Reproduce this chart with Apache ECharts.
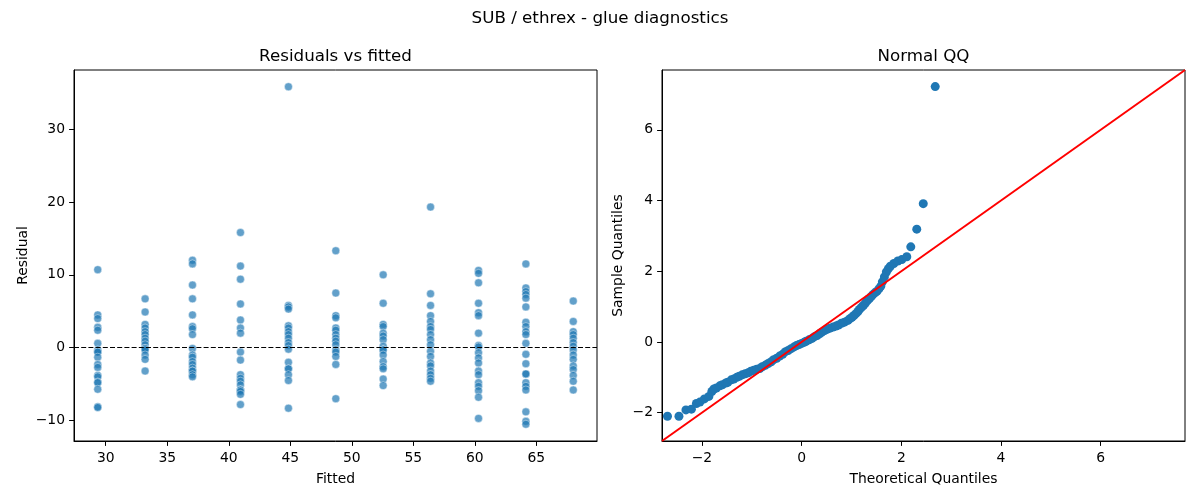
<!DOCTYPE html>
<html>
<head>
<meta charset="utf-8">
<script src="https://cdn.jsdelivr.net/npm/echarts@6/dist/echarts.min.js"></script>
<style>
  html, body { margin: 0; padding: 0; background: #fff; }
  #chart { width: 1200px; height: 500px; }
</style>
</head>
<body>
<div id="chart"></div>
<script>
// fitted levels (one column of points per level)
const fittedLevels = [29.35, 33.2, 37.05, 40.95, 44.85, 48.7, 52.55, 56.4, 60.3, 64.15, 68.0];

// residuals, same order as fittedLevels
const residualGroups = [
  [10.7, 4.5, 4.0, 2.8, 2.4, 0.6, -0.3, -0.6, -0.6, -1.3, -2.3, -2.7, -3.8, -4.0, -4.7, -4.8, -5.7, -8.1, -8.2],
  [6.7, 4.9, 3.2, 2.7, 2.2, 1.8, 1.3, 0.9, 0.4, -0.1, -0.1, -0.3, -1.0, -1.6, -3.2],
  [12.0, 11.5, 8.6, 6.7, 4.5, 2.9, 2.6, 1.8, -0.1, -1.0, -1.3, -1.9, -2.3, -2.8, -3.2, -3.2, -3.7, -4.0],
  [15.8, 11.2, 9.4, 6.0, 3.8, 2.7, 2.0, -0.6, -1.7, -3.7, -4.2, -4.6, -5.1, -5.8, -5.8, -6.0, -6.4, -7.8],
  [35.8, 5.8, 5.6, 5.3, 3.0, 2.7, 2.2, 1.8, 1.3, 0.7, 0.3, -0.2, -2.0, -2.9, -2.9, -3.7, -4.5, -8.3],
  [13.3, 7.5, 4.4, 4.1, 2.7, 2.4, 1.8, 1.3, 0.9, 0.4, -0.3, -0.6, -1.2, -2.3, -7.0],
  [10.0, 6.1, 3.2, 2.9, 2.0, 1.6, 1.1, 0.2, -0.3, -0.3, -1.0, -1.9, -2.6, -2.9, -4.3, -5.2],
  [19.3, 7.4, 5.8, 4.4, 3.6, 2.9, 2.5, 1.8, 1.1, 0.4, -0.5, -1.2, -2.1, -2.5, -3.2, -3.7, -4.2, -4.6],
  [10.6, 10.2, 8.9, 6.1, 4.8, 4.4, 2.0, 0.3, 0.1, -0.7, -1.4, -2.1, -3.2, -3.7, -4.8, -5.3, -5.9, -6.8, -9.7],
  [11.5, 8.2, 7.7, 7.3, 6.8, 5.6, 3.5, 2.9, 2.2, 1.8, 0.6, -0.9, -2.2, -3.6, -3.6, -4.8, -5.3, -5.8, -8.8, -10.1, -10.5],
  [6.4, 3.6, 2.2, 1.8, 1.3, 0.7, 0.2, -0.3, -1.0, -1.6, -2.5, -3.0, -3.8, -4.6, -5.8]
];

// QQ plot points
const qqTheoretical = [
  -2.69, -2.46, -2.32, -2.21, -2.11, -2.04, -1.95, -1.86, -1.80, -1.76, -1.71, -1.64, -1.59, -1.52, -1.48,
  -1.41, -1.36, -1.30, -1.25, -1.19, -1.13, -1.07, -1.02, -0.96, -0.90, -0.84, -0.79, -0.73, -0.67, -0.61,
  -0.56, -0.50, -0.44, -0.38, -0.33, -0.27, -0.21, -0.15, -0.10, -0.05, 0.00, 0.05, 0.09, 0.15, 0.21,
  0.26, 0.31, 0.36, 0.40, 0.46, 0.51, 0.57, 0.63, 0.69, 0.74, 0.80, 0.86, 0.93, 0.97, 1.01, 1.05, 1.09,
  1.13, 1.16, 1.20, 1.24, 1.28, 1.32, 1.36, 1.40, 1.43, 1.47, 1.51, 1.55, 1.59, 1.62, 1.66, 1.70, 1.74,
  1.78, 1.85, 1.93, 2.01, 2.11, 2.19, 2.31, 2.44, 2.68
];
const qqSample = [
  -2.10, -2.10, -1.92, -1.90, -1.74, -1.70, -1.61, -1.54, -1.40, -1.33, -1.30, -1.24, -1.21, -1.16, -1.14,
  -1.07, -1.05, -1.00, -0.97, -0.93, -0.90, -0.87, -0.83, -0.80, -0.77, -0.75, -0.70, -0.66, -0.61, -0.56,
  -0.50, -0.46, -0.40, -0.35, -0.28, -0.24, -0.19, -0.14, -0.10, -0.07, -0.04, -0.01, 0.02, 0.06, 0.10,
  0.15, 0.18, 0.23, 0.27, 0.32, 0.36, 0.39, 0.42, 0.45, 0.48, 0.53, 0.56, 0.61, 0.66, 0.70, 0.75, 0.80,
  0.86, 0.92, 0.98, 1.03, 1.10, 1.17, 1.23, 1.29, 1.34, 1.39, 1.43, 1.50, 1.58, 1.70, 1.84, 1.98, 2.07,
  2.14, 2.22, 2.29, 2.33, 2.41, 2.69, 3.19, 3.91, 7.22
];

// axis limits and tick labels
const fittedRange = [27.42, 69.93];
const residualRange = [-12.8, 38.1];
const qqRange = [-2.8, 7.69];
const fittedTicks = [30, 35, 40, 45, 50, 55, 60, 65];
const residualTicks = [-10, 0, 10, 20, 30];
const qqTicks = [-2, 0, 2, 4, 6];

const FONT = 'DejaVu Sans';
const minus = v => String(v).replace('-', '\u2212');

const residualPoints = [];
residualGroups.forEach((group, i) => {
  group.forEach(r => residualPoints.push([fittedLevels[i], r]));
});
const qqPoints = qqTheoretical.map((t, i) => [t, qqSample[i]]);

function valueAxis(gridIndex, range, ticks, name, nameGap, isY) {
  return {
    type: 'value',
    gridIndex: gridIndex,
    min: range[0],
    max: range[1],
    name: name,
    nameLocation: 'middle',
    nameGap: nameGap,
    nameTextStyle: { fontFamily: FONT, fontSize: 13.9, color: '#000' },
    axisLine: { show: true, onZero: false, lineStyle: { color: '#000', width: 1 } },
    axisTick: { show: true, length: 4.9, lineStyle: { color: '#000', width: 1 }, customValues: ticks },
    axisLabel: {
      fontFamily: FONT, fontSize: 13.9, color: '#000',
      margin: isY ? 9 : 10,
      customValues: ticks,
      formatter: minus,
      showMinLabel: true, showMaxLabel: true
    },
    splitLine: { show: false }
  };
}

const chart = echarts.init(document.getElementById('chart'), null, { renderer: 'canvas' });

const option = {
  animation: false,
  backgroundColor: '#fff',
  grid: [
    { left: 74, top: 70, width: 523, height: 371, show: true, borderColor: '#000', borderWidth: 1, backgroundColor: 'transparent' },
    { left: 662, top: 70, width: 523, height: 371, show: true, borderColor: '#000', borderWidth: 1, backgroundColor: 'transparent' }
  ],
  xAxis: [
    valueAxis(0, fittedRange, fittedTicks, 'Fitted', 31, false),
    valueAxis(1, qqRange, qqTicks, 'Theoretical Quantiles', 31, false)
  ],
  yAxis: [
    valueAxis(0, residualRange, residualTicks, 'Residual', 44, true),
    valueAxis(1, qqRange, qqTicks, 'Sample Quantiles', 37, true)
  ],
  graphic: [
    { type: 'text', x: 600, y: 19, style: { text: 'SUB / ethrex - glue diagnostics', fontFamily: FONT, fontSize: 16.7, fill: '#000', textAlign: 'center', textVerticalAlign: 'middle' } },
    { type: 'text', x: 335.5, y: 57, style: { text: 'Residuals vs fitted', fontFamily: FONT, fontSize: 16.7, fill: '#000', textAlign: 'center', textVerticalAlign: 'middle' } },
    { type: 'text', x: 923.5, y: 57, style: { text: 'Normal QQ', fontFamily: FONT, fontSize: 16.7, fill: '#000', textAlign: 'center', textVerticalAlign: 'middle' } }
  ],
  series: [
    {
      type: 'scatter',
      xAxisIndex: 0,
      yAxisIndex: 0,
      data: residualPoints,
      symbolSize: 8,
      itemStyle: { color: '#1f77b4', opacity: 0.7, borderColor: '#fff', borderWidth: 0.6 },
      markLine: {
        silent: true,
        symbol: 'none',
        label: { show: false },
        lineStyle: { color: '#000', width: 1, type: [5, 2.2] },
        data: [{ yAxis: 0 }]
      },
      z: 2
    },
    {
      type: 'scatter',
      xAxisIndex: 1,
      yAxisIndex: 1,
      data: qqPoints,
      symbolSize: 9,
      itemStyle: { color: '#1f77b4', opacity: 1 },
      z: 2
    },
    {
      type: 'line',
      xAxisIndex: 1,
      yAxisIndex: 1,
      data: [[qqRange[0], qqRange[0]], [qqRange[1], qqRange[1]]],
      symbol: 'none',
      lineStyle: { color: '#ff0000', width: 2 },
      z: 3
    }
  ]
};

chart.setOption(option);
</script>
</body>
</html>
